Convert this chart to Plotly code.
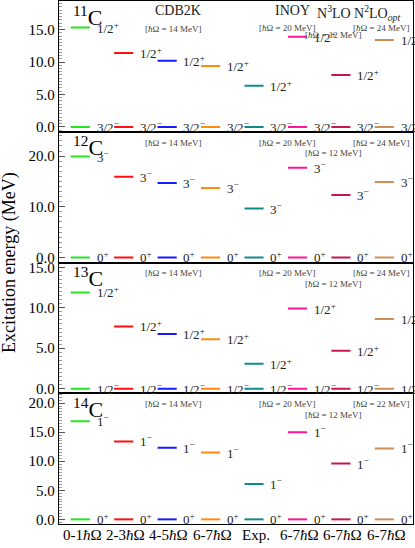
import plotly.graph_objects as go
from plotly.subplots import make_subplots

# columns (calculations + experiment)
columns = ["0-1<i>ħ</i>Ω", "2-3<i>ħ</i>Ω", "4-5<i>ħ</i>Ω", "6-7<i>ħ</i>Ω", "Exp.",
           "6-7<i>ħ</i>Ω", "6-7<i>ħ</i>Ω", "6-7<i>ħ</i>Ω"]
colors = ["#22e622", "#ff1010", "#1a1aff", "#ff8c10", "#108a8a",
          "#ff1493", "#c8174f", "#cd8f55"]

interactions = ["INOY", "N<sup>3</sup>LO", "N<sup>2</sup>LO<sub><i>opt</i></sub>"]

# excited-state energies (MeV) per column, ground state is 0
nuclei = ["11", "12", "13", "14"]
ground_jp = ["3/2<sup>−</sup>", "0<sup>+</sup>", "1/2<sup>−</sup>", "0<sup>+</sup>"]
excited_jp = ["1/2<sup>+</sup>", "3<sup>−</sup>", "1/2<sup>+</sup>", "1<sup>−</sup>"]
e_11c = [15.3, 11.4, 10.2, 9.4, 6.34, 13.9, 8.0, 13.4]
e_12c = [19.9, 15.9, 14.7, 13.7, 9.64, 17.7, 12.3, 14.9]
e_13c = [11.9, 7.7, 6.75, 6.1, 3.09, 9.9, 4.7, 8.6]
e_14c = [16.9, 13.4, 12.3, 11.5, 6.09, 15.0, 9.6, 12.2]
excited = [e_11c, e_12c, e_13c, e_14c]

hw_cdb = ["14", "14", "14", "14"]
hw_inoy = ["20", "20", "20", "20"]
hw_n3lo = ["12", "12", "12", "12"]
hw_n2lo = ["24", "24", "24", "22"]

y_ranges = [[-0.75, 19.4], [-1.0, 24.8], [-0.57, 15.6], [-0.8, 21.7]]
y_ticks = [[0, 5, 10, 15], [0, 10, 20], [0, 5, 10, 15], [0, 5, 10, 15, 20]]
y_minor = [0.5, 1.0, 0.5, 0.5]

FONT = "Liberation Serif"

fig = make_subplots(rows=4, cols=1, shared_xaxes=True, vertical_spacing=0)

x_lo, x_hi, x_lab = -0.26, 0.18, 0.29

for r in range(4):
    row = r + 1
    yref = "y" if r == 0 else f"y{row}"
    for c in range(len(columns)):
        for e, jp in [(0.0, ground_jp[r]), (excited[r][c], excited_jp[r])]:
            fig.add_trace(go.Scatter(x=[c + x_lo, c + x_hi], y=[e, e], mode="lines",
                                     line=dict(color=colors[c], width=2),
                                     showlegend=False, hoverinfo="skip"),
                          row=row, col=1)
            fig.add_annotation(x=c + x_lab, y=e, xref="x", yref=yref, text=jp,
                               showarrow=False, xanchor="left", yanchor="middle",
                               font=dict(family=FONT, size=13, color="#222"))
    # nucleus label
    fig.add_annotation(x=0.035, y=1.01, xref="x domain", yref=f"{yref} domain",
                       text=f"<sup>{nuclei[r]}</sup>C", showarrow=False,
                       xanchor="left", yanchor="top",
                       font=dict(family=FONT, size=22, color="black"))
    # hbar-omega labels (top panel has the headers above them)
    top, top12 = (0.85, 0.79) if r == 0 else (0.97, 0.89)
    hw_font = dict(family=FONT, size=9, color="#444")
    for xc, val, yy in [(2.1, hw_cdb[r], top - (0.01 if r == 0 else 0)), (4.73, hw_inoy[r], top),
                        (5.8, hw_n3lo[r], top12), (6.9, hw_n2lo[r], top)]:
        fig.add_annotation(x=xc, y=yy, xref="x", yref=f"{yref} domain",
                           text=f"[<i>ħ</i>Ω = {val} MeV]", showarrow=False,
                           xanchor="center", yanchor="top", font=hw_font)

# headers in top panel
head_font = dict(family=FONT, size=14, color="#222")
for xc, txt in [(2.2, "CDB2K"), (4.84, interactions[0]), (5.8, interactions[1]),
                (6.8, interactions[2])]:
    fig.add_annotation(x=xc, y=1.0, xref="x", yref="y domain", text=txt,
                       showarrow=False, xanchor="center", yanchor="top", font=head_font)

# x tick labels under bottom panel
for c, lab in enumerate(columns):
    fig.add_annotation(x=c, y=0, xref="x", yref="paper", text=lab, showarrow=False,
                       xanchor="center", yanchor="top", yshift=-1,
                       font=dict(family=FONT, size=15, color="black"))

fig.add_annotation(x=-0.14, y=0.5, xref="paper", yref="paper",
                   text="Excitation energy (MeV)", textangle=-90, showarrow=False,
                   xanchor="center", yanchor="middle",
                   font=dict(family=FONT, size=18, color="black"))

for r in range(4):
    fig.update_yaxes(range=y_ranges[r], tickvals=y_ticks[r], tickformat=".1f",
                     ticks="inside", ticklen=6, tickcolor="#555", automargin=False,
                     minor=dict(dtick=y_minor[r], ticks="inside", ticklen=3, tickcolor="#999"),
                     showline=True, linecolor="black", linewidth=1.3, mirror=True,
                     showgrid=False, zeroline=False,
                     tickfont=dict(family=FONT, size=15, color="black"),
                     row=r + 1, col=1)
    fig.update_xaxes(range=[-0.53, 7.62], showline=True, linecolor="black", linewidth=1.3,
                     mirror=True, showgrid=False, zeroline=False, ticks="",
                     showticklabels=False, automargin=False,
                     row=r + 1, col=1)

fig.update_layout(width=415, height=548, margin=dict(l=59, r=2, t=1, b=24),
                  plot_bgcolor="white", paper_bgcolor="white", showlegend=False)

# drop the default page margin so the figure fills the window
fig.write_html("out.html", config={"displayModeBar": False},
               post_script="document.body.style.margin='0';")
